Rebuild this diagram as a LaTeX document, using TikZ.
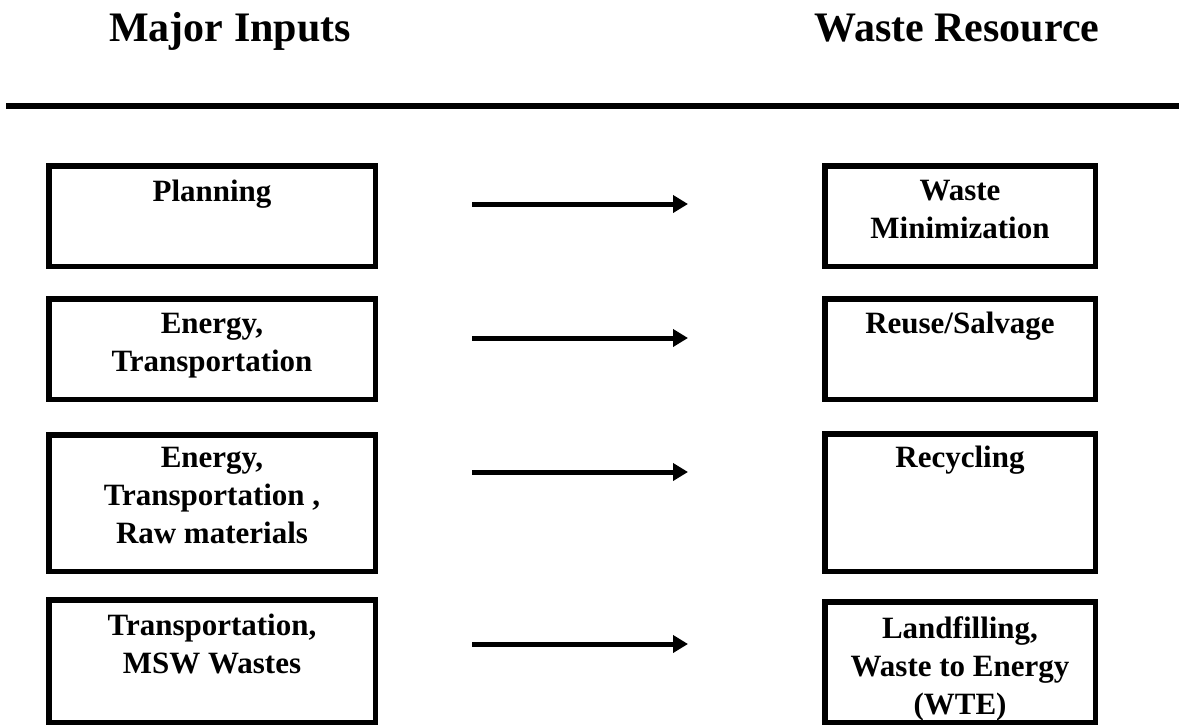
\documentclass[tikz,border=0pt]{standalone}
\usepackage{fontspec}
\setmainfont{Liberation Serif}
\usetikzlibrary{arrows.meta}
\tikzset{
  box/.style={draw=black, line width=5.5pt, inner sep=0pt, outer sep=0pt, rectangle},
  lbox/.style={box, minimum width=326.5pt},
  rbox/.style={box, minimum width=270.5pt},
  lbl/.style={anchor=north, inner sep=0pt, align=center, font=\bfseries\fontsize{31}{38}\selectfont},
  ttl/.style={anchor=base, inner sep=0pt, font=\bfseries\fontsize{42}{48}\selectfont},
  arr/.style={line width=5pt, -{Triangle[length=15pt,width=17pt]}}
}
\begin{document}
\begin{tikzpicture}[x=1pt,y=-1pt]
\useasboundingbox (0,0) rectangle (1179,725);
% titles
\node[ttl] (tL) at (230,42) {Major Inputs};
\node[ttl] (tR) at (957,42) {Waste Resource};
% rule
\coordinate (r1) at (6,106);
\coordinate (r2) at (1179,106);
\draw[line width=6pt] (r1) -- (r2);
% left boxes
\node[lbox, minimum height=100.5pt] (L1) at (212,216) {};
\node[lbox, minimum height=100.5pt] (L2) at (212,349) {};
\node[lbox, minimum height=136.5pt] (L3) at (212,503) {};
\node[lbox, minimum height=122.5pt] (L4) at (212,661) {};
% right boxes
\node[rbox, minimum height=100.5pt] (R1) at (960,216) {};
\node[rbox, minimum height=100.5pt] (R2) at (960,349) {};
\node[rbox, minimum height=137.5pt] (R3) at (960,502.5) {};
\node[rbox, minimum height=120.5pt] (R4) at (960,662) {};
% labels
\node[lbl] (tL1) at ([yshift=-14.25pt]L1.north) {Planning};
\node[lbl] (tL2) at ([yshift=-14.25pt]L2.north) {Energy,\\Transportation};
\node[lbl] (tL3) at ([yshift=-12.25pt]L3.north) {Energy,\\Transportation ,\\Raw materials};
\node[lbl] (tL4) at ([yshift=-14.25pt]L4.north) {Transportation,\\MSW Wastes};
\node[lbl] (tR1) at ([yshift=-14.25pt]R1.north) {Waste\\Minimization};
\node[lbl] (tR2) at ([yshift=-12.75pt]R2.north) {Reuse/Salvage};
\node[lbl] (tR3) at ([yshift=-12.25pt]R3.north) {Recycling};
\node[lbl] (tR4) at ([yshift=-14.25pt]R4.north) {Landfilling,\\Waste to Energy\\(WTE)};
% arrows
\foreach \i/\y in {1/204,2/338,3/472,4/644}{
  \coordinate (a\i s) at (472,\y);
  \coordinate (a\i e) at (688,\y);
  \draw[arr] (a\i s) -- (a\i e);
}
\end{tikzpicture}
\end{document}
